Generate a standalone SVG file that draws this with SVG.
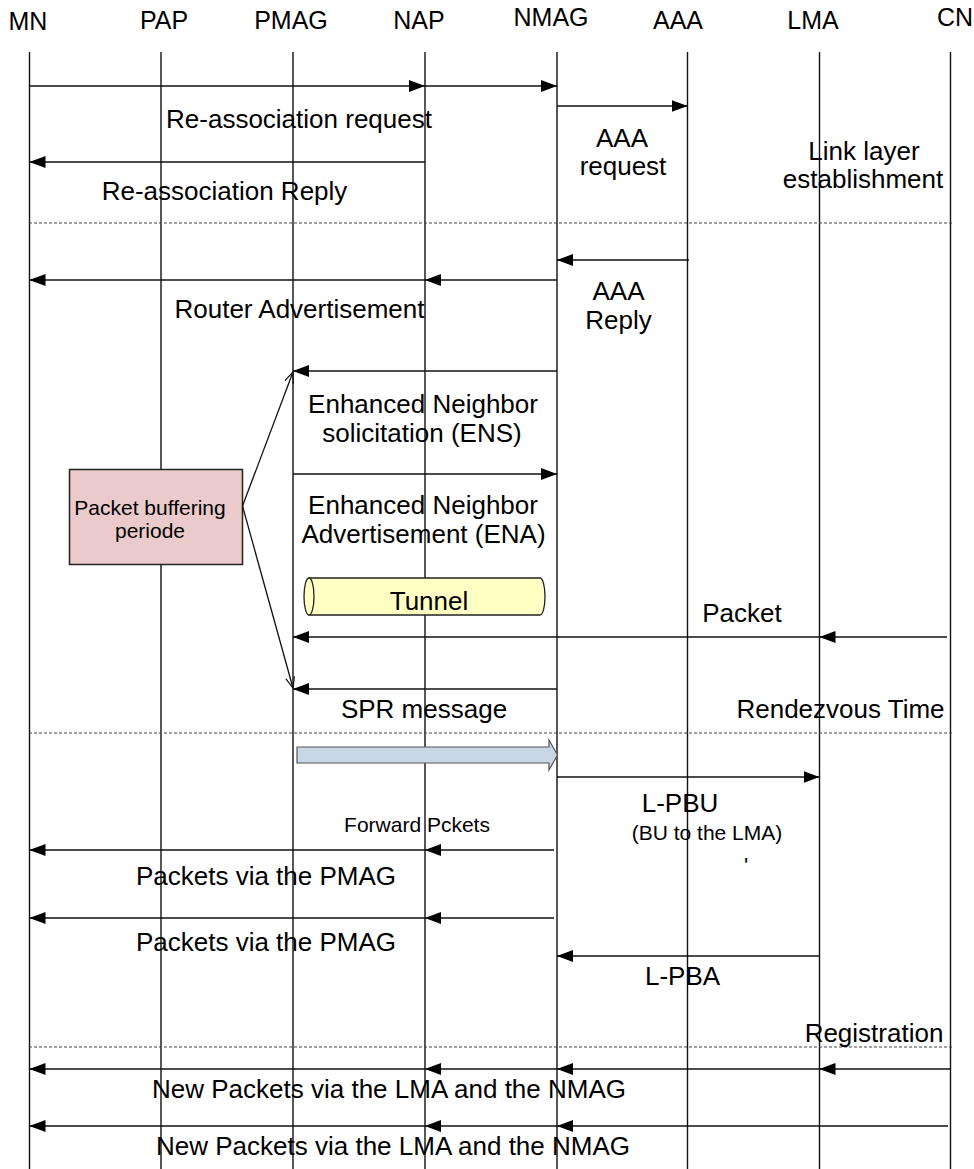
<svg xmlns="http://www.w3.org/2000/svg" width="974" height="1169" viewBox="0 0 974 1169">
<style>
  .hdr { font-family: "Liberation Sans", Arial, sans-serif; font-size: 25px; fill: #000; text-anchor: middle; }
  .lbl { font-family: "Liberation Sans", Arial, sans-serif; font-size: 26px; fill: #000; text-anchor: middle; }
  .sm { font-family: "Liberation Sans", Arial, sans-serif; font-size: 21px; fill: #000; text-anchor: middle; }
  .life { stroke: #111; stroke-width: 1.4; fill: none; }
  .msg { stroke: #111; stroke-width: 1.5; fill: none; marker-end: url(#ah); }
  .sep { stroke: #444; stroke-width: 1; stroke-dasharray: 3 2; fill: none; }
  .ptr { stroke: #111; stroke-width: 1.3; fill: none; marker-end: url(#open); }
</style>
<defs>
  <marker id="ah" markerUnits="userSpaceOnUse" markerWidth="16" markerHeight="12" refX="16" refY="6" orient="auto">
    <path d="M0,0 L16,6 L0,12 z" fill="#000"/>
  </marker>
  <marker id="open" markerUnits="userSpaceOnUse" markerWidth="12" markerHeight="10" refX="11" refY="5" orient="auto">
    <path d="M0,0.5 L11,5 L0,9.5" fill="none" stroke="#111" stroke-width="1.2"/>
  </marker>
</defs>
<rect width="974" height="1169" fill="#fff"/>

<g id="node-MN"><text class="hdr" x="28" y="30">MN</text><line class="life" x1="29.5" y1="52" x2="29.5" y2="1169"/></g>
<g id="node-PAP"><text class="hdr" x="164" y="29">PAP</text><line class="life" x1="161" y1="52" x2="161" y2="1169"/></g>
<g id="node-PMAG"><text class="hdr" x="291" y="29">PMAG</text><line class="life" x1="293" y1="52" x2="293" y2="1169"/></g>
<g id="node-NAP"><text class="hdr" x="419" y="29">NAP</text><line class="life" x1="425" y1="52" x2="425" y2="1169"/></g>
<g id="node-NMAG"><text class="hdr" x="551" y="26">NMAG</text><line class="life" x1="557" y1="52" x2="557" y2="1169"/></g>
<g id="node-AAA"><text class="hdr" x="678" y="29">AAA</text><line class="life" x1="687.5" y1="52" x2="687.5" y2="1169"/></g>
<g id="node-LMA"><text class="hdr" x="813" y="29">LMA</text><line class="life" x1="819.5" y1="52" x2="819.5" y2="1169"/></g>
<g id="node-CN"><text class="hdr" x="937" y="26" style="text-anchor:start">CN</text><line class="life" x1="950.5" y1="52" x2="950.5" y2="1169"/></g>

<g id="separators">
  <line class="sep" x1="29" y1="223" x2="952" y2="223"/>
  <line class="sep" x1="29" y1="733" x2="952" y2="733"/>
  <line class="sep" x1="29" y1="1047" x2="952" y2="1047"/>
</g>

<g id="node-buffer">
  <rect x="69.5" y="469.5" width="173" height="95" fill="#eacaca" stroke="#222" stroke-width="1.5"/>
  <text class="sm" x="150" y="515">Packet buffering</text>
  <text class="sm" x="150" y="538">periode</text>
</g>

<g id="node-tunnel">
  <path d="M309,578 L540,578 A5,18.5 0 0 1 540,615 L309,615 Z" fill="#ffffc4" stroke="#222" stroke-width="1.3"/>
  <ellipse cx="309" cy="596.5" rx="5" ry="18.5" fill="#ffffc4" stroke="#222" stroke-width="1.3"/>
  <text class="lbl" x="429" y="610">Tunnel</text>
</g>

<g id="node-blockarrow">
  <path d="M297,747 L549,747 L549,740 L557.5,755 L549,770 L549,763 L297,763 Z" fill="#c8d6e5" stroke="#555" stroke-width="1.2"/>
</g>

<g id="connectors">
  <line class="msg" x1="29.5" y1="86" x2="425" y2="86"/>
  <line class="msg" x1="425" y1="86" x2="557" y2="86"/>
  <line class="msg" x1="557" y1="106" x2="687.5" y2="106"/>
  <line class="msg" x1="425" y1="162" x2="29.5" y2="162"/>
  <line class="msg" x1="689" y1="260" x2="557" y2="260"/>
  <line class="msg" x1="557" y1="280" x2="425" y2="280"/>
  <line class="msg" x1="425" y1="280" x2="29.5" y2="280"/>
  <line class="msg" x1="557" y1="371" x2="293" y2="371"/>
  <line class="msg" x1="293" y1="474" x2="557" y2="474"/>
  <line class="msg" x1="947" y1="637" x2="819.5" y2="637"/>
  <line class="msg" x1="819.5" y1="637" x2="293" y2="637"/>
  <line class="msg" x1="557" y1="689" x2="293" y2="689"/>
  <line class="msg" x1="557" y1="777" x2="819.5" y2="777"/>
  <line class="msg" x1="554" y1="850" x2="425" y2="850"/>
  <line class="msg" x1="425" y1="850" x2="29.5" y2="850"/>
  <line class="msg" x1="554" y1="918" x2="425" y2="918"/>
  <line class="msg" x1="425" y1="918" x2="29.5" y2="918"/>
  <line class="msg" x1="819.5" y1="956" x2="557" y2="956"/>
  <line class="msg" x1="950" y1="1069" x2="819.5" y2="1069"/>
  <line class="msg" x1="819.5" y1="1069" x2="557" y2="1069"/>
  <line class="msg" x1="557" y1="1069" x2="425" y2="1069"/>
  <line class="msg" x1="425" y1="1069" x2="29.5" y2="1069"/>
  <line class="msg" x1="948" y1="1126" x2="557" y2="1126"/>
  <line class="msg" x1="557" y1="1126" x2="425" y2="1126"/>
  <line class="msg" x1="425" y1="1126" x2="29.5" y2="1126"/>
  <line class="ptr" x1="242.5" y1="506" x2="293" y2="372"/>
  <line class="ptr" x1="242.5" y1="506" x2="293" y2="688"/>
</g>

<g id="labels">
  <text class="lbl" x="299" y="128">Re-association request</text>
  <text class="lbl" x="224.5" y="200">Re-association Reply</text>
  <text class="lbl" x="622" y="147">AAA</text>
  <text class="lbl" x="623" y="175">request</text>
  <text class="lbl" x="864" y="160">Link layer</text>
  <text class="lbl" x="863" y="188">establishment</text>
  <text class="lbl" x="618.5" y="300">AAA</text>
  <text class="lbl" x="618.5" y="329">Reply</text>
  <text class="lbl" x="423" y="413">Enhanced Neighbor</text>
  <text class="lbl" x="422" y="442">solicitation (ENS)</text>
  <text class="lbl" x="299.5" y="318">Router Advertisement</text>
  <text class="lbl" x="423" y="514">Enhanced Neighbor</text>
  <text class="lbl" x="423.5" y="543">Advertisement (ENA)</text>
  <text class="lbl" x="742" y="622">Packet</text>
  <text class="lbl" x="424" y="718">SPR message</text>
  <text class="lbl" x="840.5" y="718">Rendezvous Time</text>
  <text class="lbl" x="680" y="812">L-PBU</text>
  <text class="sm" x="707" y="840">(BU to the LMA)</text>
  <text class="sm" x="417" y="832">Forward Pckets</text>
  <text class="lbl" x="746" y="873" style="font-size:22px">'</text>
  <text class="lbl" x="266" y="885">Packets via the PMAG</text>
  <text class="lbl" x="266" y="951">Packets via the PMAG</text>
  <text class="lbl" x="682.5" y="985">L-PBA</text>
  <text class="lbl" x="874" y="1042">Registration</text>
  <text class="lbl" x="389" y="1098">New Packets via the LMA and the NMAG</text>
  <text class="lbl" x="393" y="1155">New Packets via the LMA and the NMAG</text>
</g>
</svg>
